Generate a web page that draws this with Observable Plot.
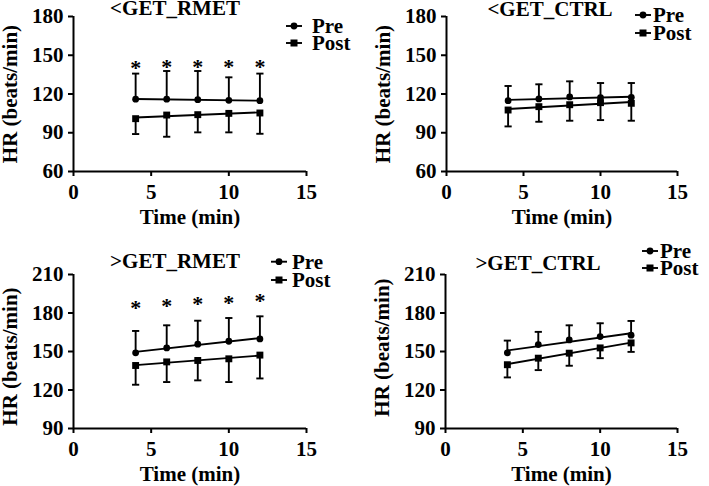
<!DOCTYPE html>
<html>
<head>
<meta charset="utf-8">
<script src="https://cdn.jsdelivr.net/npm/d3@7"></script>
<script src="https://cdn.jsdelivr.net/npm/@observablehq/plot@0.6"></script>
<style>
  html, body { margin: 0; padding: 0; background: #fff; }
  #root { position: relative; width: 709px; height: 486px; overflow: hidden; background: #fff; }
  #root svg.panel { position: absolute; }
  #overlay { position: absolute; left: 0; top: 0; pointer-events: none; }
</style>
</head>
<body>
<div id="root"></div>
<script>
// ---------- data ----------
const times = [4, 6, 8, 10, 12];
const xTicks = [0, 5, 10, 15];
const lowYTicks = [60, 90, 120, 150, 180];
const highYTicks = [90, 120, 150, 180, 210];

// <GET_RMET
const lowRmetPre = [116, 116, 115.6, 115.1, 114.8];
const lowRmetPreUpper = [135.8, 137.8, 137.8, 132.9, 135.8];
const lowRmetPost = [100.9, 103.7, 104, 105, 105.3];
const lowRmetPostLower = [89, 86.9, 90.3, 90.3, 89.2];
const lowRmetStar = [142.3, 143.6, 143, 143.6, 143.6];

// <GET_CTRL
const lowCtrlPre = [114.8, 116.2, 117.7, 117.2, 117.4];
const lowCtrlPreUpper = [126.2, 127.5, 129.8, 128.5, 128.5];
const lowCtrlPost = [107.6, 110.2, 111.7, 113.3, 112.8];
const lowCtrlPostLower = [94.9, 98.5, 99.3, 99.8, 99.3];

// >GET_RMET
const highRmetPre = [149, 152.8, 155.7, 158, 159.8];
const highRmetPreUpper = [166, 170.4, 174, 176.1, 177.4];
const highRmetPost = [139.1, 141.9, 143, 144.3, 147.2];
const highRmetPostLower = [124.1, 126.2, 127.5, 126.2, 129];
const highRmetStar = [186.5, 187.8, 189, 190.3, 191.6];

// >GET_CTRL
const highCtrlPre = [149, 155.4, 159, 161.6, 162.7];
const highCtrlPreUpper = [158.5, 165.3, 170.4, 172, 173.8];
const highCtrlPost = [139.7, 144.8, 148.7, 152.8, 156.7];
const highCtrlPostLower = [129.8, 135.5, 138.9, 144.8, 149.7];

const titles = ["<GET_RMET", "<GET_CTRL", ">GET_RMET", ">GET_CTRL"];
const seriesNames = ["Pre", "Post"];
const xLabel = "Time (min)";
const yLabel = "HR (beats/min)";

// ---------- layout ----------
const FONT = "'Liberation Serif', 'Times New Roman', serif";
const panels = [
  {title: titles[0], pre: lowRmetPre, preUp: lowRmetPreUpper, post: lowRmetPost, postLo: lowRmetPostLower, star: lowRmetStar,
   yTicks: lowYTicks, left: 0, top: 0, width: 355, height: 240, ml: 73, mr: 49, mt: 16, mb: 69, yLabDy: 0,
   titleX: 175, titleY: 8, legLine: 286, legText: 312, legY: [26, 43]},
  {title: titles[1], pre: lowCtrlPre, preUp: lowCtrlPreUpper, post: lowCtrlPost, postLo: lowCtrlPostLower, star: null,
   yTicks: lowYTicks, left: 355, top: 0, width: 354, height: 240, ml: 91, mr: 32, mt: 16, mb: 69, yLabDy: 0,
   titleX: 550, titleY: 8.5, legLine: 635, legText: 653, legY: [15, 33]},
  {title: titles[2], pre: highRmetPre, preUp: highRmetPreUpper, post: highRmetPost, postLo: highRmetPostLower, star: highRmetStar,
   yTicks: highYTicks, left: 0, top: 240, width: 355, height: 246, ml: 73, mr: 49, mt: 34, mb: 58, yLabDy: 5,
   titleX: 175, titleY: 260.8, legLine: 271, legText: 292, legY: [261.7, 280]},
  {title: titles[3], pre: highCtrlPre, preUp: highCtrlPreUpper, post: highCtrlPost, postLo: highCtrlPostLower, star: null,
   yTicks: highYTicks, left: 355, top: 240, width: 354, height: 246, ml: 90, mr: 32, mt: 34, mb: 58, yLabDy: -4,
   titleX: 538, titleY: 262.5, legLine: 642, legText: 660, legY: [251, 268]}
];

// horizontal cap symbol for error bars
const capSymbol = {
  draw(context, size) {
    const h = Math.sqrt(size / Math.PI);
    context.moveTo(-h, 0);
    context.lineTo(h, 0);
  }
};

const root = document.getElementById("root");
const SW = 1.9;

panels.forEach(p => {
  const rows = times.map((t, i) => ({
    t, pre: p.pre[i], preUp: p.preUp[i], post: p.post[i], postLo: p.postLo[i],
    star: p.star ? p.star[i] : null
  }));
  const yDomain = [p.yTicks[0], p.yTicks[p.yTicks.length - 1]];
  const marks = [
    Plot.ruleY([yDomain[0]], {stroke: "black", strokeWidth: 2}),
    Plot.ruleX([0], {stroke: "black", strokeWidth: 2}),
    Plot.axisX({ticks: xTicks, tickSize: 5, tickPadding: 8, strokeWidth: 2, label: null,
                fontSize: 21, fontWeight: "bold", fill: "black"}),
    Plot.axisY({ticks: p.yTicks, tickSize: 5, tickPadding: 5, strokeWidth: 2, label: null,
                fontSize: 21, fontWeight: "bold", fill: "black"}),
    // error bars
    Plot.ruleX(rows, {x: "t", y1: "pre", y2: "preUp", stroke: "black", strokeWidth: SW}),
    Plot.ruleX(rows, {x: "t", y1: "post", y2: "postLo", stroke: "black", strokeWidth: SW}),
    Plot.dot(rows, {x: "t", y: "preUp", symbol: capSymbol, r: 3.6, stroke: "black", strokeWidth: SW, fill: "none"}),
    Plot.dot(rows, {x: "t", y: "postLo", symbol: capSymbol, r: 3.6, stroke: "black", strokeWidth: SW, fill: "none"}),
    // regression lines
    Plot.linearRegressionY(rows, {x: "t", y: "pre", ci: 0, stroke: "black", strokeWidth: SW}),
    Plot.linearRegressionY(rows, {x: "t", y: "post", ci: 0, stroke: "black", strokeWidth: SW}),
    // markers
    Plot.dot(rows, {x: "t", y: "pre", symbol: "circle", r: 3.4, fill: "black", stroke: "none"}),
    Plot.dot(rows, {x: "t", y: "post", symbol: "square", r: 3.9, fill: "black", stroke: "none"}),
    // axis labels
    Plot.text([xLabel], {frameAnchor: "bottom", dy: 46, lineAnchor: "middle", fontSize: 21, fontWeight: "bold", fill: "black"}),
    Plot.text([yLabel], {frameAnchor: "left", dx: -63.5, dy: p.yLabDy, rotate: -90, lineAnchor: "middle", textAnchor: "middle",
                         fontSize: 21, fontWeight: "bold", fill: "black"})
  ];
  if (p.star) {
    marks.push(Plot.text(rows, {x: "t", y: "star", text: () => "*", lineAnchor: "middle", dy: 3,
                                fontSize: 22, fontWeight: "bold", fill: "black"}));
  }
  const chart = Plot.plot({
    width: p.width,
    height: p.height,
    marginLeft: p.ml, marginRight: p.mr, marginTop: p.mt, marginBottom: p.mb,
    x: {domain: [0, 15]},
    y: {domain: yDomain},
    style: {fontFamily: FONT, fontSize: "21px", fontWeight: "bold", color: "black", background: "transparent", overflow: "visible"},
    marks
  });
  chart.classList.add("panel");
  chart.style.left = p.left + "px";
  chart.style.top = p.top + "px";
  root.appendChild(chart);
});

// overlay: titles and legends
const overlay = d3.select(root).append("svg")
  .attr("id", "overlay")
  .attr("width", 709).attr("height", 486)
  .style("font-family", FONT).style("font-weight", "bold");

panels.forEach(p => {
  overlay.append("text")
    .attr("x", p.titleX).attr("y", p.titleY + 7)
    .attr("text-anchor", "middle")
    .attr("font-size", 21)
    .text(p.title);
  seriesNames.forEach((name, k) => {
    const y = p.legY[k];
    const g = overlay.append("g");
    g.append("line").attr("x1", p.legLine).attr("x2", p.legLine + 16)
      .attr("y1", y).attr("y2", y).attr("stroke", "black").attr("stroke-width", SW);
    if (k === 0) {
      g.append("circle").attr("cx", p.legLine + 8).attr("cy", y).attr("r", 3.4).attr("fill", "black");
    } else {
      g.append("rect").attr("x", p.legLine + 8 - 3.5).attr("y", y - 3.5).attr("width", 7).attr("height", 7).attr("fill", "black");
    }
    g.append("text").attr("x", p.legText).attr("y", y + 7).attr("font-size", 21).text(name);
  });
});
</script>
</body>
</html>
